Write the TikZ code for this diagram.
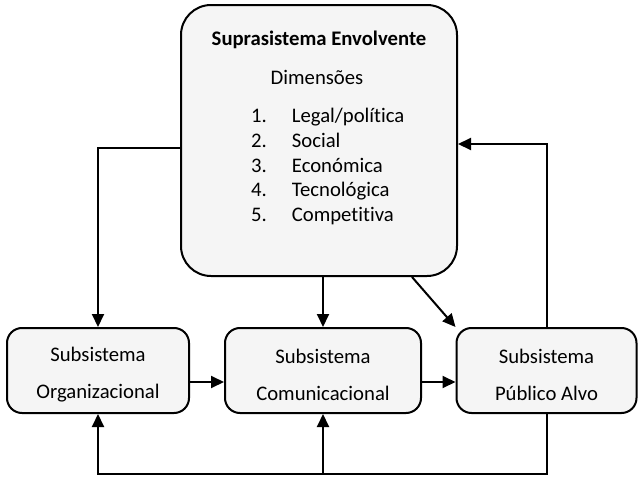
\documentclass[tikz,border=0pt]{standalone}
\usepackage{fontspec}
\setmainfont{Carlito}[RawFeature={-liga}]
\usepackage{tikz}
\usetikzlibrary{positioning, arrows.meta, calc}

\begin{document}
\begin{tikzpicture}[x=1pt, y=-1pt,
  subbox/.style={draw, line width=2pt, fill=gray!8, rounded corners=15pt, minimum height=85pt, inner sep=0pt},
  conn/.style={line width=2pt, -{Triangle[length=13pt, width=12pt]}},
  txt/.style={font=\fontsize{20.7}{24.8}\selectfont, inner sep=0pt, align=center}]
\useasboundingbox (0,0) rectangle (638,479);
% outer system
\node[draw, line width=2pt, fill=gray!8, rounded corners=30pt, minimum width=276pt, minimum height=271pt] (supra) at (319,140.5) {};
\node[txt, font=\fontsize{20.7}{24.8}\selectfont\bfseries] (titulo) at (319,40) {Suprasistema Envolvente};
\node[txt] (dims) at (317,77) {Dimensões};
\node[txt, anchor=north west] (lista) at (251,105) {%
  \begin{tabular}{@{}l@{\hspace{25pt}}l@{}}
  1. & Legal/política\\
  2. & Social\\
  3. & Económica\\
  4. & Tecnológica\\
  5. & Competitiva
  \end{tabular}};
% subsystems
\node[subbox, minimum width=182pt] (org) at (98,370.5) {};
\node[subbox, minimum width=196pt] (com) at (323,370.5) {};
\node[subbox, minimum width=180pt] (pub) at (546.5,370.5) {};
\node[txt] (orgtxt) at ([yshift=-4pt]org.center) {Subsistema\\[12pt]Organizacional};
\node[txt] (comtxt) at ([yshift=-4pt]com.center) {Subsistema\\[12pt]Comunicacional};
\node[txt] (pubtxt) at ([yshift=-4pt]pub.center) {Subsistema\\[12pt]Público Alvo};
\coordinate (baixo) at (323,474);
% connectors
\draw[conn] ([yshift=-7.5pt]supra.west) -| (org.north);
\draw[conn] (supra.south -| com.north) -- (com.north);
\draw[conn] ([xshift=93pt]supra.south) -- (pub.north west);
\draw[conn] (pub.north) |- ([yshift=-3.5pt]supra.east);
\draw[conn] ([yshift=-11.5pt]org.east) -- ([yshift=-11.5pt]com.west);
\draw[conn] ([yshift=-11.5pt]com.east) -- ([yshift=-11.5pt]pub.west);
\draw[conn] (pub.south) |- (baixo) -| (org.south);
\draw[conn] (baixo) -- (com.south);
\end{tikzpicture}
\end{document}
